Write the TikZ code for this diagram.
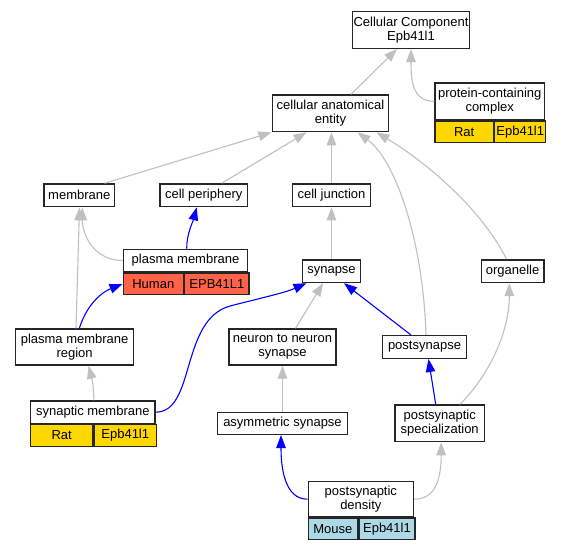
\documentclass[tikz,border=0pt]{standalone}
\usepackage{fontspec}
\setmainfont{Liberation Sans}
\usetikzlibrary{arrows.meta, positioning}
\definecolor{ratgold}{HTML}{FFD700}
\definecolor{humanred}{HTML}{FF6347}
\definecolor{mouseblue}{HTML}{ADD8E6}
\definecolor{edgegray}{HTML}{C0C0C0}

\begin{document}
\begin{tikzpicture}[x=1pt, y=-1pt,
    term/.style={rectangle, draw=black!85, line width=1.4pt, fill=white,
        inner sep=0pt, align=center, font=\fontsize{13}{14}\selectfont},
    cell/.style={term, anchor=north west, minimum height=21.6pt},
    isa/.style={draw=edgegray, line width=1.1pt,
        -{Triangle[length=13pt,width=9.5pt]}},
    partof/.style={isa, draw=blue}]
    \useasboundingbox (0,0) rectangle (564,549);

    % terms
    \node[term, minimum width=116.6pt, minimum height=36.6pt] (cc) at (411,30) {Cellular Component\\Epb41l1};
    \node[term, minimum width=115.6pt, minimum height=36.7pt] (cae) at (330.5,113.3) {cellular anatomical\\entity};
    \node[term, minimum width=109.3pt, minimum height=36.7pt] (pcc) at (489.7,101.3) {protein-containing\\complex};
    \node[cell, fill=ratgold, minimum width=58.3pt] (pcc-sp) at (pcc.south west) {Rat};
    \node[cell, fill=ratgold, minimum width=51pt] (pcc-gene) at (pcc-sp.north east) {Epb41l1};

    \node[term, minimum width=70.7pt, minimum height=22.7pt] (mem) at (79.3,195.3) {membrane};
    \node[term, minimum width=87.3pt, minimum height=22.7pt] (cp) at (203.7,195.3) {cell periphery};
    \node[term, minimum width=78pt, minimum height=22.7pt] (cj) at (331.5,195.3) {cell junction};

    \node[term, minimum width=124.4pt, minimum height=22.4pt] (pm) at (185.5,260.5) {plasma membrane};
    \node[cell, fill=humanred, minimum width=60pt] (pm-sp) at (pm.south west) {Human};
    \node[cell, fill=humanred, minimum width=64.4pt] (pm-gene) at (pm-sp.north east) {EPB41L1};

    \node[term, minimum width=58.5pt, minimum height=22.6pt] (syn) at (331.5,271.2) {synapse};
    \node[term, minimum width=62.4pt, minimum height=22.6pt] (org) at (512.6,271.2) {organelle};

    \node[term, minimum width=118.3pt, minimum height=36pt] (pmr) at (74.6,347) {plasma membrane\\region};
    \node[term, minimum width=107pt, minimum height=36pt] (nn) at (282.5,347) {neuron to neuron\\synapse};
    \node[term, minimum width=84.4pt, minimum height=22.6pt] (post) at (424.5,347) {postsynapse};

    \node[term, minimum width=124.3pt, minimum height=22.3pt] (sm) at (92.85,412.15) {synaptic membrane};
    \node[cell, fill=ratgold, minimum width=62pt] (sm-sp) at (sm.south west) {Rat};
    \node[cell, fill=ratgold, minimum width=62.3pt] (sm-gene) at (sm-sp.north east) {Epb41l1};

    \node[term, minimum width=130.4pt, minimum height=22pt] (asym) at (282.5,423.3) {asymmetric synapse};
    \node[term, minimum width=89.3pt, minimum height=36.7pt] (ps) at (439.7,423.3) {postsynaptic\\specialization};

    \node[term, minimum width=105.3pt, minimum height=35pt] (pd) at (360.85,499.2) {postsynaptic\\density};
    \node[cell, fill=mouseblue, minimum width=49.4pt] (pd-sp) at (pd.south west) {Mouse};
    \node[cell, fill=mouseblue, minimum width=55.9pt] (pd-gene) at (pd-sp.north east) {Epb41l1};

    % is_a
    \draw[isa] ([xshift=20.5pt]cae.north) -- ([xshift=-14pt]cc.south);
    \draw[isa] (pcc.west) .. controls +(-22,0) and +(0,32) .. (cc.south);
    \draw[isa] ([xshift=25.3pt]mem.north) -- ([xshift=-59pt]cae.south);
    \draw[isa] ([xshift=18pt]cp.north) -- ([xshift=-24pt]cae.south);
    \draw[isa] (cj.north) -- (cj.north |- cae.south);
    \draw[isa] ([xshift=1.5pt]post.north) .. controls +(-3,-95) and +(38,28) .. ([xshift=27pt]cae.south);
    \draw[isa] ([xshift=-6pt]org.north) .. controls +(-25,-50) and +(50,30) .. ([xshift=46pt]cae.south);
    \draw[isa] (pm.west) .. controls +(-28,0) and +(0,28) .. ([xshift=3pt]mem.south);
    \draw[isa] ([xshift=1.4pt]pmr.north) -- ([xshift=0.2pt]mem.south);
    \draw[isa] ([xshift=1pt]sm.north) .. controls +(0,-15) and +(3,12) .. ([xshift=14pt]pmr.south);
    \draw[isa] (syn.north) -- (cj.south);
    \draw[isa] ([xshift=13pt]nn.north) -- ([xshift=-8.5pt]syn.south);
    \draw[isa] (asym.north) -- (nn.south);
    \draw[isa] (pd.east) .. controls +(22,0) and +(0,35) .. ([xshift=1.5pt]ps.south);
    \draw[isa] ([xshift=20.3pt]ps.north) .. controls +(30,-30) and +(0,48) .. ([xshift=-3.3pt]org.south);

    % part_of
    \draw[partof] ([xshift=1.2pt]pm.north) .. controls +(0,-15) and +(-4,15) .. ([xshift=-7pt]cp.south);
    \draw[partof] ([xshift=4.7pt]pmr.north) .. controls +(8,-25) and +(-20,8) .. (pm-sp.west);
    \draw[partof] (sm.east) .. controls +(40,0) and +(-50,14) .. (230,306)
        .. controls +(35,-9) and +(-21.5,9.5) .. ([xshift=-25pt]syn.south);
    \draw[partof] ([xshift=-13.5pt]post.north) -- ([xshift=12.5pt]syn.south);
    \draw[partof] (pd.west) .. controls +(-22,0) and +(0,35) .. ([xshift=-1.5pt]asym.south);
    \draw[partof] ([xshift=-4pt]ps.north) -- ([xshift=4pt]post.south);
\end{tikzpicture}
\end{document}
